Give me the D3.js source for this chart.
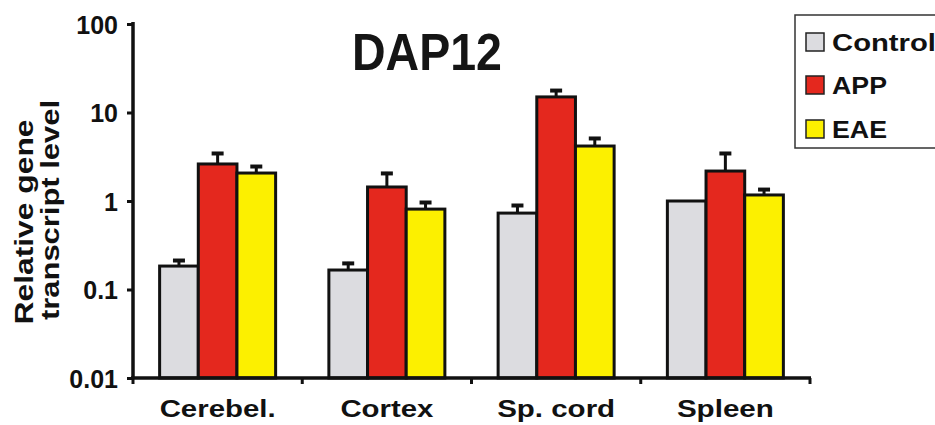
<!DOCTYPE html>
<html>
<head>
<meta charset="utf-8">
<script src="https://cdn.jsdelivr.net/npm/d3@7"></script>
<style>
  html, body { margin: 0; padding: 0; background: #ffffff; }
  svg { display: block; font-family: "Liberation Sans", Arial, sans-serif; font-weight: bold; }
</style>
</head>
<body>
<svg id="chart" width="935" height="425"></svg>
<script>
// Tissues and groups
const categories = ["Cerebel.", "Cortex", "Sp. cord", "Spleen"];
const series = ["Control", "APP", "EAE"];

// Mean relative transcript level per tissue
const controlValues = [0.184, 0.166, 0.73, 1.0];
const appValues     = [2.62, 1.44, 15.0, 2.18];
const eaeValues     = [2.07, 0.81, 4.18, 1.17];

// Upper error (added to the mean)
const controlErr = [0.037, 0.039, 0.195, 0];
const appErr     = [0.96, 0.69, 3.4, 1.4];
const eaeErr     = [0.48, 0.19, 1.11, 0.23];

const yTicks = [0.01, 0.1, 1, 10, 100];
const yTickLabels = ["0.01", "0.1", "1", "10", "100"];

const colors = { Control: "#dcdce0", APP: "#e4281e", EAE: "#fcf000" };

const valuesBySeries = { Control: controlValues, APP: appValues, EAE: eaeValues };
const errBySeries = { Control: controlErr, APP: appErr, EAE: eaeErr };

const svg = d3.select("#chart");

const x0 = d3.scaleBand().domain(categories).range([133, 810])
  .paddingInner(0.3146).paddingOuter(0.1573);
const x1 = d3.scaleBand().domain(series).range([0, x0.bandwidth()]);
const y = d3.scaleLog().domain([0.01, 100]).range([378, 24]);

// Bars
const groups = svg.append("g").selectAll("g")
  .data(categories).join("g")
  .attr("transform", d => `translate(${x0(d)},0)`);

groups.each(function(cat, ci) {
  const g = d3.select(this);
  series.forEach(s => {
    const v = valuesBySeries[s][ci];
    const e = errBySeries[s][ci];
    const bx = x1(s);
    const cx = bx + x1.bandwidth() / 2;
    if (e > 0) {
      g.append("line")
        .attr("x1", cx).attr("x2", cx)
        .attr("y1", y(v)).attr("y2", y(v + e))
        .attr("stroke", "#111").attr("stroke-width", 3);
      g.append("line")
        .attr("x1", cx - 6).attr("x2", cx + 6)
        .attr("y1", y(v + e) + 1.5).attr("y2", y(v + e) + 1.5)
        .attr("stroke", "#111").attr("stroke-width", 4);
    }
    g.append("rect")
      .attr("x", bx).attr("width", x1.bandwidth())
      .attr("y", y(v)).attr("height", y(0.01) - y(v))
      .attr("fill", colors[s])
      .attr("stroke", "#111").attr("stroke-width", 3);
  });
});

// Y axis
const yAxis = d3.axisLeft(y).tickValues(yTicks)
  .tickFormat((d, i) => yTickLabels[i]).tickSize(6).tickPadding(9);
const yg = svg.append("g").attr("transform", "translate(133,0)").call(yAxis);
yg.select(".domain").attr("stroke", "#111").attr("stroke-width", 3.5).attr("d", "M0,22V379");
yg.selectAll(".tick line").attr("stroke", "#111").attr("stroke-width", 3);
yg.selectAll(".tick text")
  .attr("fill", "#111").attr("font-size", 25).attr("font-weight", "bold")
  .attr("font-family", "Liberation Sans, Arial, sans-serif")
  .attr("dy", "0.36em");

// X axis line with boundary ticks
const xg = svg.append("g");
xg.append("line").attr("x1", 131).attr("x2", 811).attr("y1", 378).attr("y2", 378)
  .attr("stroke", "#111").attr("stroke-width", 3.5);
const bounds = d3.range(categories.length + 1).map(i => 133 + i * x0.step());
xg.selectAll(".xt").data(bounds).join("line")
  .attr("x1", d => d).attr("x2", d => d)
  .attr("y1", 378).attr("y2", 384)
  .attr("stroke", "#111").attr("stroke-width", 3);

const xLabelWidths = [116, 93, 118, 97];
xg.selectAll(".xl").data(categories).join("text")
  .attr("x", d => x0(d) + x0.bandwidth() / 2)
  .attr("y", 417)
  .attr("text-anchor", "middle")
  .attr("font-size", 24)
  .attr("fill", "#111")
  .attr("textLength", (d, i) => xLabelWidths[i])
  .attr("lengthAdjust", "spacingAndGlyphs")
  .text(d => d);

// Y axis title
const yTitle = svg.append("g").attr("fill", "#111").attr("font-size", 25);
yTitle.append("text")
  .attr("transform", "translate(33,222) rotate(-90)")
  .attr("text-anchor", "middle")
  .attr("textLength", 205).attr("lengthAdjust", "spacingAndGlyphs")
  .text("Relative gene");
yTitle.append("text")
  .attr("transform", "translate(59,210) rotate(-90)")
  .attr("text-anchor", "middle")
  .attr("textLength", 220).attr("lengthAdjust", "spacingAndGlyphs")
  .text("transcript level");

// Title
svg.append("text")
  .attr("x", 352).attr("y", 70)
  .attr("font-size", 52).attr("fill", "#151515")
  .attr("textLength", 150).attr("lengthAdjust", "spacingAndGlyphs")
  .text("DAP12");

// Legend
const legend = svg.append("g");
legend.append("rect")
  .attr("x", 795).attr("y", 15).attr("width", 150).attr("height", 133)
  .attr("fill", "#ffffff").attr("stroke", "#333").attr("stroke-width", 1.5);
const legendTextWidths = { Control: 104, APP: 55, EAE: 55 };
const legendRows = [42, 85, 129];
series.forEach((s, i) => {
  legend.append("rect")
    .attr("x", 806).attr("y", legendRows[i] - 9).attr("width", 18).attr("height", 18)
    .attr("fill", colors[s]).attr("stroke", "#222").attr("stroke-width", 1.5);
  legend.append("text")
    .attr("x", 832).attr("y", legendRows[i] + 9)
    .attr("font-size", 24).attr("fill", "#111")
    .attr("textLength", legendTextWidths[s]).attr("lengthAdjust", "spacingAndGlyphs")
    .text(s);
});
</script>
</body>
</html>
